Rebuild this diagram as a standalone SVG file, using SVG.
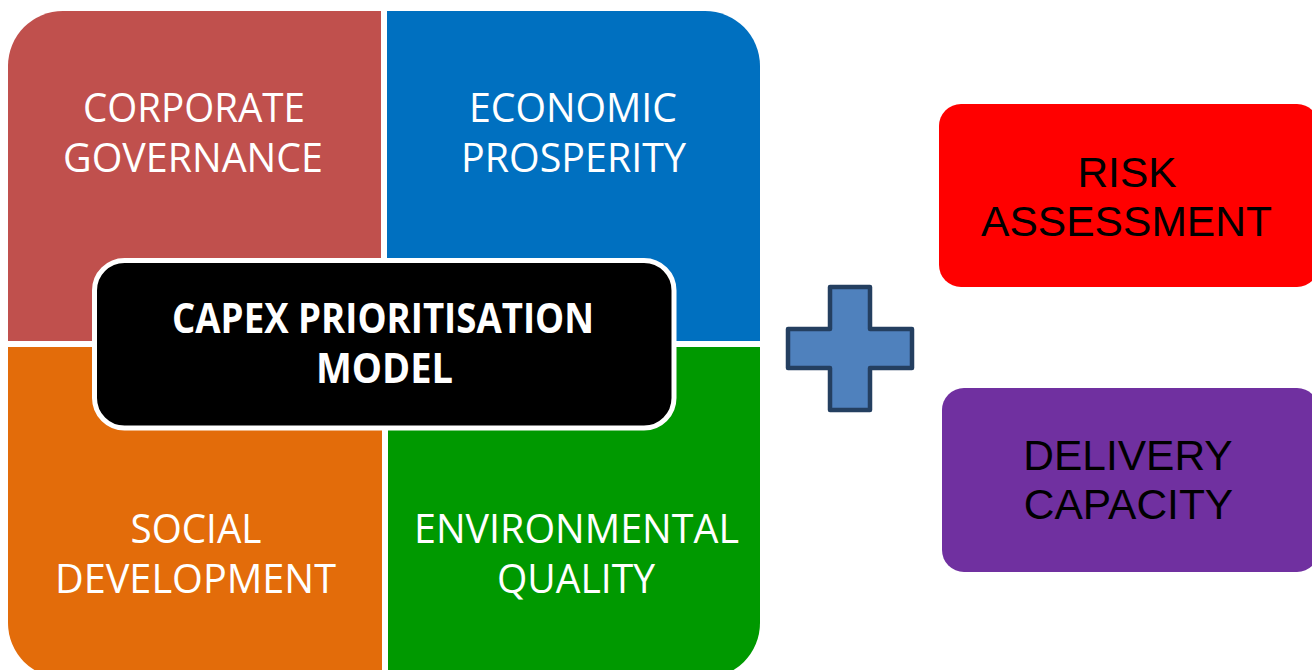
<svg xmlns="http://www.w3.org/2000/svg" width="1312" height="670" viewBox="0 0 1312 670">
<style>
.q{font-family:"Open Sans","Liberation Sans",sans-serif;font-size:41px;fill:#fff;text-anchor:middle}
.c{font-family:"Open Sans","Liberation Sans",sans-serif;font-size:42px;font-weight:bold;fill:#fff;text-anchor:middle}
.r{font-family:"Liberation Sans",Arial,sans-serif;font-size:42.5px;fill:#000;text-anchor:middle}
</style>
<rect width="1312" height="670" fill="#fff"/>
<g id="corporate-governance">
<path d="M8,66 A55,55 0 0 1 63,11 H381 V341 H8 Z" fill="#C0504D"/>
<text class="q" x="194" y="122" textLength="222" lengthAdjust="spacingAndGlyphs">CORPORATE</text>
<text class="q" x="193" y="172" textLength="260" lengthAdjust="spacingAndGlyphs">GOVERNANCE</text>
</g>
<g id="economic-prosperity">
<path d="M387,11 H705 A55,55 0 0 1 760,66 V341 H387 Z" fill="#0070C0"/>
<text class="q" x="573" y="122" textLength="208" lengthAdjust="spacingAndGlyphs">ECONOMIC</text>
<text class="q" x="573.5" y="172" textLength="225" lengthAdjust="spacingAndGlyphs">PROSPERITY</text>
</g>
<g id="social-development">
<path d="M8,347 H382 V678 H63 A55,55 0 0 1 8,623 Z" fill="#E36C0A"/>
<text class="q" x="196" y="543" textLength="131" lengthAdjust="spacingAndGlyphs">SOCIAL</text>
<text class="q" x="195.5" y="593" textLength="281" lengthAdjust="spacingAndGlyphs">DEVELOPMENT</text>
</g>
<g id="environmental-quality">
<path d="M388,347 H760 V623 A55,55 0 0 1 705,678 H388 Z" fill="#009900"/>
<text class="q" x="576.5" y="543" textLength="325" lengthAdjust="spacingAndGlyphs">ENVIRONMENTAL</text>
<text class="q" x="576" y="593" textLength="158" lengthAdjust="spacingAndGlyphs">QUALITY</text>
</g>
<g id="capex-model">
<rect x="94.5" y="260.5" width="579.5" height="167.5" rx="30" ry="30" fill="#000" stroke="#fff" stroke-width="5"/>
<text class="c" x="383" y="333" textLength="422" lengthAdjust="spacingAndGlyphs">CAPEX PRIORITISATION</text>
<text class="c" x="384.5" y="383" textLength="137" lengthAdjust="spacingAndGlyphs">MODEL</text>
</g>
<g id="plus">
<path d="M830,287 H870 V329 H912 V368 H870 V410 H830 V368 H788 V329 H830 Z" fill="#4F81BD" stroke="#243F60" stroke-width="4.5" stroke-linejoin="round"/>
</g>
<g id="risk-assessment">
<rect x="939" y="104" width="380" height="183" rx="22" ry="22" fill="#FF0000"/>
<text class="r" x="1127" y="187">RISK</text>
<text class="r" x="1126.5" y="236" textLength="291" lengthAdjust="spacingAndGlyphs">ASSESSMENT</text>
</g>
<g id="delivery-capacity">
<rect x="942" y="388" width="377" height="184" rx="22" ry="22" fill="#7030A0"/>
<text class="r" x="1128" y="470">DELIVERY</text>
<text class="r" x="1128.5" y="519">CAPACITY</text>
</g>
<g id="connectors"></g>
</svg>
